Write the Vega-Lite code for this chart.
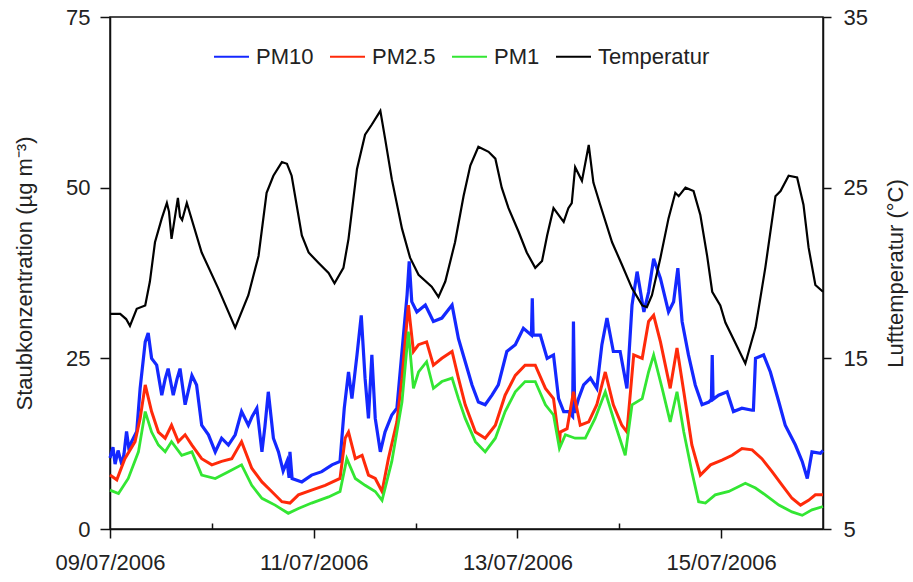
{
  "$schema": "https://vega.github.io/schema/vega-lite/v6.json",
  "width": 713,
  "height": 512,
  "autosize": {"type": "none"},
  "padding": {"left": 110, "top": 17, "right": 90, "bottom": 53},
  "config": {
    "font": "Liberation Sans",
    "view": {"stroke": "#111", "strokeWidth": 1.5},
    "axis": {"grid": false, "domainColor": "#111", "domainWidth": 1.5, "tickColor": "#111", "tickWidth": 1.5, "labelColor": "#222", "labelFontSize": 22, "titleFontSize": 22, "titleFontWeight": "normal", "titleColor": "#222"}
  },
  "data": {"values": [
    {"t":0,"s":"PM10","v":10.4},{"t":0.7,"s":"PM10","v":12.0},{"t":1.2,"s":"PM10","v":9.5},{"t":1.9,"s":"PM10","v":11.5},{"t":2.8,"s":"PM10","v":9.4},{"t":3.3,"s":"PM10","v":11.0},{"t":3.9,"s":"PM10","v":14.3},{"t":4.5,"s":"PM10","v":11.5},{"t":5.1,"s":"PM10","v":12.8},{"t":6.3,"s":"PM10","v":14.3},{"t":7.1,"s":"PM10","v":20.6},{"t":8.3,"s":"PM10","v":27.4},{"t":9.0,"s":"PM10","v":28.7},{"t":9.8,"s":"PM10","v":25.0},{"t":11.0,"s":"PM10","v":24.0},{"t":12.2,"s":"PM10","v":19.6},{"t":13.0,"s":"PM10","v":22.0},{"t":13.7,"s":"PM10","v":23.5},{"t":14.9,"s":"PM10","v":19.6},{"t":15.8,"s":"PM10","v":22.0},{"t":16.5,"s":"PM10","v":23.5},{"t":17.7,"s":"PM10","v":18.2},{"t":19.3,"s":"PM10","v":22.5},{"t":20.4,"s":"PM10","v":21.1},{"t":21.6,"s":"PM10","v":15.2},{"t":23.2,"s":"PM10","v":13.8},{"t":24.8,"s":"PM10","v":11.3},{"t":26.3,"s":"PM10","v":13.3},{"t":27.9,"s":"PM10","v":12.3},{"t":29.5,"s":"PM10","v":13.8},{"t":31.0,"s":"PM10","v":17.2},{"t":32.6,"s":"PM10","v":15.2},{"t":33.5,"s":"PM10","v":16.5},{"t":34.6,"s":"PM10","v":17.7},{"t":35.8,"s":"PM10","v":11.3},{"t":36.5,"s":"PM10","v":15.0},{"t":37.3,"s":"PM10","v":20.1},{"t":38.5,"s":"PM10","v":13.3},{"t":39.7,"s":"PM10","v":11.3},{"t":40.8,"s":"PM10","v":8.5},{"t":41.7,"s":"PM10","v":9.9},{"t":42.2,"s":"PM10","v":7.5},{"t":42.4,"s":"PM10","v":11.3},{"t":42.9,"s":"PM10","v":7.4},{"t":45.2,"s":"PM10","v":6.9},{"t":47.5,"s":"PM10","v":7.9},{"t":49.9,"s":"PM10","v":8.4},{"t":52.3,"s":"PM10","v":9.4},{"t":54.2,"s":"PM10","v":9.9},{"t":55.2,"s":"PM10","v":17.7},{"t":56.2,"s":"PM10","v":23.0},{"t":57.0,"s":"PM10","v":19.1},{"t":58.2,"s":"PM10","v":25.5},{"t":59.2,"s":"PM10","v":31.3},{"t":60.1,"s":"PM10","v":22.1},{"t":60.9,"s":"PM10","v":16.2},{"t":61.7,"s":"PM10","v":25.5},{"t":62.5,"s":"PM10","v":16.2},{"t":63.7,"s":"PM10","v":11.3},{"t":64.8,"s":"PM10","v":14.2},{"t":66.4,"s":"PM10","v":16.7},{"t":67.6,"s":"PM10","v":17.7},{"t":68.8,"s":"PM10","v":26.0},{"t":70.0,"s":"PM10","v":34.3},{"t":70.5,"s":"PM10","v":39.2},{"t":71.1,"s":"PM10","v":33.3},{"t":72.3,"s":"PM10","v":31.8},{"t":74.3,"s":"PM10","v":32.8},{"t":76.2,"s":"PM10","v":30.4},{"t":78.2,"s":"PM10","v":30.9},{"t":80.6,"s":"PM10","v":32.8},{"t":82.1,"s":"PM10","v":27.9},{"t":83.7,"s":"PM10","v":24.5},{"t":85.3,"s":"PM10","v":21.1},{"t":86.8,"s":"PM10","v":18.6},{"t":88.4,"s":"PM10","v":18.2},{"t":90.0,"s":"PM10","v":19.6},{"t":91.5,"s":"PM10","v":21.1},{"t":93.5,"s":"PM10","v":26.0},{"t":95.5,"s":"PM10","v":27.0},{"t":97.4,"s":"PM10","v":29.4},{"t":99.3,"s":"PM10","v":28.4},{"t":99.5,"s":"PM10","v":33.8},{"t":99.7,"s":"PM10","v":28.4},{"t":101.4,"s":"PM10","v":28.4},{"t":103.0,"s":"PM10","v":25.0},{"t":104.5,"s":"PM10","v":25.5},{"t":105.7,"s":"PM10","v":19.1},{"t":106.9,"s":"PM10","v":17.2},{"t":108.0,"s":"PM10","v":17.2},{"t":109.0,"s":"PM10","v":16.5},{"t":109.2,"s":"PM10","v":30.4},{"t":109.5,"s":"PM10","v":17.0},{"t":110.4,"s":"PM10","v":19.1},{"t":111.6,"s":"PM10","v":21.1},{"t":113.2,"s":"PM10","v":22.1},{"t":114.7,"s":"PM10","v":20.6},{"t":115.9,"s":"PM10","v":27.0},{"t":117.1,"s":"PM10","v":30.9},{"t":118.6,"s":"PM10","v":26.0},{"t":120.2,"s":"PM10","v":26.0},{"t":121.8,"s":"PM10","v":20.6},{"t":123.0,"s":"PM10","v":32.8},{"t":124.2,"s":"PM10","v":37.7},{"t":125.8,"s":"PM10","v":31.8},{"t":126.9,"s":"PM10","v":34.7},{"t":128.1,"s":"PM10","v":39.6},{"t":129.7,"s":"PM10","v":36.7},{"t":131.6,"s":"PM10","v":31.8},{"t":132.8,"s":"PM10","v":33.3},{"t":133.8,"s":"PM10","v":38.2},{"t":134.8,"s":"PM10","v":30.4},{"t":136.3,"s":"PM10","v":25.5},{"t":137.9,"s":"PM10","v":21.1},{"t":139.5,"s":"PM10","v":18.2},{"t":141.1,"s":"PM10","v":18.6},{"t":141.7,"s":"PM10","v":19.0},{"t":141.9,"s":"PM10","v":25.5},{"t":142.1,"s":"PM10","v":19.0},{"t":143.4,"s":"PM10","v":19.6},{"t":145.4,"s":"PM10","v":20.1},{"t":146.9,"s":"PM10","v":17.2},{"t":148.9,"s":"PM10","v":17.7},{"t":151.3,"s":"PM10","v":17.4},{"t":151.6,"s":"PM10","v":17.4},{"t":152.1,"s":"PM10","v":25.0},{"t":154.0,"s":"PM10","v":25.5},{"t":155.6,"s":"PM10","v":23.0},{"t":157.6,"s":"PM10","v":18.6},{"t":159.1,"s":"PM10","v":15.2},{"t":161.5,"s":"PM10","v":12.3},{"t":163.1,"s":"PM10","v":9.9},{"t":164.3,"s":"PM10","v":7.4},{"t":165.4,"s":"PM10","v":11.3},{"t":167.4,"s":"PM10","v":11.1},{"t":168,"s":"PM10","v":11.5},

    {"t":0,"s":"PM2.5","v":7.9},{"t":1.6,"s":"PM2.5","v":7.2},{"t":3.5,"s":"PM2.5","v":10.3},{"t":5.9,"s":"PM2.5","v":12.8},{"t":7.1,"s":"PM2.5","v":16.2},{"t":8.3,"s":"PM2.5","v":21.1},{"t":9.8,"s":"PM2.5","v":17.2},{"t":11.4,"s":"PM2.5","v":14.2},{"t":13.0,"s":"PM2.5","v":13.3},{"t":14.5,"s":"PM2.5","v":15.2},{"t":16.1,"s":"PM2.5","v":12.8},{"t":17.7,"s":"PM2.5","v":13.8},{"t":19.3,"s":"PM2.5","v":12.3},{"t":21.6,"s":"PM2.5","v":10.3},{"t":24.0,"s":"PM2.5","v":9.4},{"t":26.3,"s":"PM2.5","v":9.9},{"t":28.7,"s":"PM2.5","v":10.3},{"t":31.0,"s":"PM2.5","v":12.8},{"t":33.4,"s":"PM2.5","v":8.9},{"t":35.8,"s":"PM2.5","v":6.9},{"t":38.1,"s":"PM2.5","v":5.5},{"t":40.5,"s":"PM2.5","v":4.0},{"t":42.4,"s":"PM2.5","v":3.8},{"t":44.4,"s":"PM2.5","v":5.0},{"t":47.5,"s":"PM2.5","v":5.7},{"t":50.7,"s":"PM2.5","v":6.4},{"t":54.2,"s":"PM2.5","v":7.4},{"t":55.4,"s":"PM2.5","v":13.3},{"t":56.2,"s":"PM2.5","v":14.2},{"t":57.8,"s":"PM2.5","v":10.3},{"t":59.4,"s":"PM2.5","v":10.8},{"t":60.9,"s":"PM2.5","v":7.9},{"t":62.5,"s":"PM2.5","v":7.4},{"t":64.1,"s":"PM2.5","v":5.5},{"t":65.6,"s":"PM2.5","v":10.3},{"t":67.6,"s":"PM2.5","v":15.7},{"t":68.8,"s":"PM2.5","v":22.1},{"t":70.3,"s":"PM2.5","v":32.8},{"t":71.5,"s":"PM2.5","v":26.0},{"t":72.7,"s":"PM2.5","v":27.0},{"t":74.6,"s":"PM2.5","v":27.4},{"t":76.2,"s":"PM2.5","v":24.0},{"t":78.2,"s":"PM2.5","v":25.0},{"t":80.6,"s":"PM2.5","v":26.0},{"t":82.1,"s":"PM2.5","v":22.1},{"t":83.7,"s":"PM2.5","v":18.2},{"t":86.1,"s":"PM2.5","v":14.2},{"t":88.4,"s":"PM2.5","v":13.3},{"t":90.8,"s":"PM2.5","v":15.2},{"t":93.1,"s":"PM2.5","v":19.6},{"t":95.5,"s":"PM2.5","v":22.5},{"t":97.8,"s":"PM2.5","v":24.0},{"t":100.2,"s":"PM2.5","v":24.0},{"t":102.6,"s":"PM2.5","v":20.6},{"t":104.5,"s":"PM2.5","v":19.1},{"t":105.9,"s":"PM2.5","v":12.5},{"t":106.1,"s":"PM2.5","v":14.2},{"t":107.7,"s":"PM2.5","v":14.7},{"t":109.2,"s":"PM2.5","v":20.1},{"t":110.8,"s":"PM2.5","v":15.2},{"t":112.8,"s":"PM2.5","v":15.7},{"t":114.7,"s":"PM2.5","v":18.2},{"t":116.7,"s":"PM2.5","v":23.0},{"t":118.6,"s":"PM2.5","v":18.2},{"t":120.6,"s":"PM2.5","v":15.2},{"t":121.8,"s":"PM2.5","v":14.2},{"t":123.4,"s":"PM2.5","v":25.5},{"t":125.4,"s":"PM2.5","v":25.0},{"t":126.9,"s":"PM2.5","v":30.4},{"t":128.1,"s":"PM2.5","v":31.3},{"t":129.7,"s":"PM2.5","v":27.4},{"t":132.0,"s":"PM2.5","v":20.6},{"t":133.6,"s":"PM2.5","v":26.5},{"t":135.2,"s":"PM2.5","v":20.1},{"t":137.1,"s":"PM2.5","v":12.3},{"t":139.1,"s":"PM2.5","v":7.9},{"t":141.5,"s":"PM2.5","v":9.4},{"t":144.2,"s":"PM2.5","v":10.1},{"t":146.6,"s":"PM2.5","v":10.8},{"t":148.9,"s":"PM2.5","v":11.8},{"t":151.3,"s":"PM2.5","v":11.6},{"t":153.6,"s":"PM2.5","v":10.3},{"t":156.0,"s":"PM2.5","v":8.4},{"t":158.4,"s":"PM2.5","v":6.4},{"t":160.7,"s":"PM2.5","v":4.5},{"t":162.7,"s":"PM2.5","v":3.5},{"t":164.6,"s":"PM2.5","v":4.2},{"t":166.2,"s":"PM2.5","v":5.0},{"t":168,"s":"PM2.5","v":5.0},

    {"t":0,"s":"PM1","v":5.7},{"t":2.0,"s":"PM1","v":5.2},{"t":4.3,"s":"PM1","v":7.4},{"t":6.7,"s":"PM1","v":11.3},{"t":8.3,"s":"PM1","v":17.2},{"t":9.8,"s":"PM1","v":14.2},{"t":11.4,"s":"PM1","v":12.3},{"t":13.0,"s":"PM1","v":11.3},{"t":14.5,"s":"PM1","v":12.8},{"t":16.9,"s":"PM1","v":10.8},{"t":19.3,"s":"PM1","v":11.3},{"t":21.6,"s":"PM1","v":7.9},{"t":24.8,"s":"PM1","v":7.4},{"t":27.9,"s":"PM1","v":8.4},{"t":31.0,"s":"PM1","v":9.4},{"t":33.4,"s":"PM1","v":6.4},{"t":35.8,"s":"PM1","v":4.5},{"t":38.9,"s":"PM1","v":3.5},{"t":42.0,"s":"PM1","v":2.3},{"t":44.4,"s":"PM1","v":3.0},{"t":47.5,"s":"PM1","v":3.8},{"t":51.5,"s":"PM1","v":4.7},{"t":54.2,"s":"PM1","v":5.5},{"t":55.8,"s":"PM1","v":10.3},{"t":57.8,"s":"PM1","v":7.4},{"t":60.1,"s":"PM1","v":6.4},{"t":62.5,"s":"PM1","v":5.5},{"t":64.1,"s":"PM1","v":4.2},{"t":66.4,"s":"PM1","v":9.9},{"t":68.8,"s":"PM1","v":18.6},{"t":70.3,"s":"PM1","v":28.9},{"t":71.5,"s":"PM1","v":20.6},{"t":72.7,"s":"PM1","v":23.0},{"t":74.6,"s":"PM1","v":24.5},{"t":76.2,"s":"PM1","v":20.6},{"t":78.2,"s":"PM1","v":21.6},{"t":80.6,"s":"PM1","v":22.1},{"t":82.1,"s":"PM1","v":19.1},{"t":83.7,"s":"PM1","v":16.2},{"t":86.1,"s":"PM1","v":12.8},{"t":88.4,"s":"PM1","v":11.3},{"t":90.8,"s":"PM1","v":13.3},{"t":93.1,"s":"PM1","v":17.2},{"t":95.5,"s":"PM1","v":20.1},{"t":97.8,"s":"PM1","v":21.6},{"t":100.2,"s":"PM1","v":21.6},{"t":102.6,"s":"PM1","v":18.2},{"t":104.5,"s":"PM1","v":16.7},{"t":105.9,"s":"PM1","v":11.8},{"t":107.3,"s":"PM1","v":13.8},{"t":109.6,"s":"PM1","v":13.3},{"t":112.0,"s":"PM1","v":13.3},{"t":114.3,"s":"PM1","v":16.2},{"t":116.7,"s":"PM1","v":20.1},{"t":119.1,"s":"PM1","v":15.2},{"t":121.4,"s":"PM1","v":10.8},{"t":123.0,"s":"PM1","v":18.2},{"t":125.4,"s":"PM1","v":19.1},{"t":126.9,"s":"PM1","v":23.0},{"t":128.1,"s":"PM1","v":25.5},{"t":130.1,"s":"PM1","v":20.6},{"t":132.0,"s":"PM1","v":15.7},{"t":133.6,"s":"PM1","v":20.1},{"t":135.2,"s":"PM1","v":14.2},{"t":137.1,"s":"PM1","v":8.4},{"t":138.7,"s":"PM1","v":4.0},{"t":140.3,"s":"PM1","v":3.8},{"t":142.6,"s":"PM1","v":5.0},{"t":145.8,"s":"PM1","v":5.5},{"t":149.7,"s":"PM1","v":6.7},{"t":152.1,"s":"PM1","v":6.0},{"t":154.4,"s":"PM1","v":5.0},{"t":157.6,"s":"PM1","v":3.5},{"t":160.7,"s":"PM1","v":2.5},{"t":163.1,"s":"PM1","v":2.0},{"t":165.4,"s":"PM1","v":2.8},{"t":168,"s":"PM1","v":3.3},

    {"t":0,"s":"Temperatur","v":17.6},{"t":2.4,"s":"Temperatur","v":17.6},{"t":3.8,"s":"Temperatur","v":17.3},{"t":4.7,"s":"Temperatur","v":16.9},{"t":6.3,"s":"Temperatur","v":17.9},{"t":8.3,"s":"Temperatur","v":18.1},{"t":9.4,"s":"Temperatur","v":19.5},{"t":10.6,"s":"Temperatur","v":21.8},{"t":12.2,"s":"Temperatur","v":23.2},{"t":13.4,"s":"Temperatur","v":24.1},{"t":13.9,"s":"Temperatur","v":23.6},{"t":14.5,"s":"Temperatur","v":22.0},{"t":16.0,"s":"Temperatur","v":24.4},{"t":16.5,"s":"Temperatur","v":23.3},{"t":17.0,"s":"Temperatur","v":23.1},{"t":18.1,"s":"Temperatur","v":24.1},{"t":21.6,"s":"Temperatur","v":21.2},{"t":25.5,"s":"Temperatur","v":19.1},{"t":29.5,"s":"Temperatur","v":16.8},{"t":32.6,"s":"Temperatur","v":18.7},{"t":35.0,"s":"Temperatur","v":21.0},{"t":36.9,"s":"Temperatur","v":24.7},{"t":38.5,"s":"Temperatur","v":25.7},{"t":40.5,"s":"Temperatur","v":26.5},{"t":41.7,"s":"Temperatur","v":26.4},{"t":42.8,"s":"Temperatur","v":25.7},{"t":45.2,"s":"Temperatur","v":22.2},{"t":46.8,"s":"Temperatur","v":21.2},{"t":49.1,"s":"Temperatur","v":20.6},{"t":51.5,"s":"Temperatur","v":20.0},{"t":52.9,"s":"Temperatur","v":19.4},{"t":55.0,"s":"Temperatur","v":20.3},{"t":56.2,"s":"Temperatur","v":22.0},{"t":58.2,"s":"Temperatur","v":26.1},{"t":60.1,"s":"Temperatur","v":28.1},{"t":61.7,"s":"Temperatur","v":28.7},{"t":63.7,"s":"Temperatur","v":29.5},{"t":64.8,"s":"Temperatur","v":27.9},{"t":66.4,"s":"Temperatur","v":25.5},{"t":68.8,"s":"Temperatur","v":22.6},{"t":70.7,"s":"Temperatur","v":20.9},{"t":72.7,"s":"Temperatur","v":19.9},{"t":75.8,"s":"Temperatur","v":19.2},{"t":77.4,"s":"Temperatur","v":18.6},{"t":79.0,"s":"Temperatur","v":19.5},{"t":81.3,"s":"Temperatur","v":21.8},{"t":83.3,"s":"Temperatur","v":24.5},{"t":84.9,"s":"Temperatur","v":26.3},{"t":86.8,"s":"Temperatur","v":27.4},{"t":89.2,"s":"Temperatur","v":27.1},{"t":90.8,"s":"Temperatur","v":26.7},{"t":92.3,"s":"Temperatur","v":25.0},{"t":93.9,"s":"Temperatur","v":23.8},{"t":96.3,"s":"Temperatur","v":22.4},{"t":98.2,"s":"Temperatur","v":21.2},{"t":100.2,"s":"Temperatur","v":20.3},{"t":101.8,"s":"Temperatur","v":20.7},{"t":103.0,"s":"Temperatur","v":22.2},{"t":104.5,"s":"Temperatur","v":23.8},{"t":106.9,"s":"Temperatur","v":23.0},{"t":108.0,"s":"Temperatur","v":23.8},{"t":108.8,"s":"Temperatur","v":24.1},{"t":109.6,"s":"Temperatur","v":26.2},{"t":111.2,"s":"Temperatur","v":25.4},{"t":112.8,"s":"Temperatur","v":27.5},{"t":113.9,"s":"Temperatur","v":25.3},{"t":115.5,"s":"Temperatur","v":24.0},{"t":118.3,"s":"Temperatur","v":21.8},{"t":120.6,"s":"Temperatur","v":20.5},{"t":123.0,"s":"Temperatur","v":19.1},{"t":125.4,"s":"Temperatur","v":18.1},{"t":126.5,"s":"Temperatur","v":18.0},{"t":127.7,"s":"Temperatur","v":18.7},{"t":129.7,"s":"Temperatur","v":20.9},{"t":131.6,"s":"Temperatur","v":23.2},{"t":133.2,"s":"Temperatur","v":24.7},{"t":134.0,"s":"Temperatur","v":24.5},{"t":135.6,"s":"Temperatur","v":25.0},{"t":137.5,"s":"Temperatur","v":24.8},{"t":139.1,"s":"Temperatur","v":23.4},{"t":140.7,"s":"Temperatur","v":21.0},{"t":141.9,"s":"Temperatur","v":18.9},{"t":143.8,"s":"Temperatur","v":18.1},{"t":145.0,"s":"Temperatur","v":17.1},{"t":149.7,"s":"Temperatur","v":14.7},{"t":152.1,"s":"Temperatur","v":16.8},{"t":154.4,"s":"Temperatur","v":20.3},{"t":156.8,"s":"Temperatur","v":24.5},{"t":158.0,"s":"Temperatur","v":24.8},{"t":159.9,"s":"Temperatur","v":25.7},{"t":161.9,"s":"Temperatur","v":25.6},{"t":163.4,"s":"Temperatur","v":24.0},{"t":164.6,"s":"Temperatur","v":21.5},{"t":166.2,"s":"Temperatur","v":19.3},{"t":168,"s":"Temperatur","v":18.9}
  ]},
  "encoding": {
    "x": {
      "field": "t", "type": "quantitative",
      "scale": {"domain": [0, 168], "nice": false, "zero": false},
      "axis": {
        "title": null,
        "values": [0, 24, 48, 72, 96, 120, 144],
        "labelExpr": "datum.value == 0 ? '09/07/2006' : datum.value == 48 ? '11/07/2006' : datum.value == 96 ? '13/07/2006' : datum.value == 144 ? '15/07/2006' : ''",
        "tickSize": {"condition": {"test": "datum.value % 48 === 0", "value": 9}, "value": -6},
        "labelPadding": 14,
        "labelFlush": false
      }
    }
  },
  "layer": [
    {
      "transform": [{"filter": "datum.s != 'Temperatur'"}],
      "mark": {"type": "line", "interpolate": "linear"},
      "encoding": {
        "y": {
          "field": "v", "type": "quantitative",
          "scale": {"domain": [0, 75], "nice": false},
          "axis": {"orient": "left", "values": [0, 25, 50, 75], "tickSize": 10, "labelPadding": 10, "title": "Staubkonzentration (µg m⁻³)", "titlePadding": 29}
        },
        "color": {
          "field": "s", "type": "nominal",
          "scale": {"domain": ["PM10", "PM2.5", "PM1", "Temperatur"], "range": ["#1428ff", "#ff2a0a", "#33e633", "#000000"]},
          "legend": {"title": null, "orient": "none", "legendX": 103, "legendY": 21, "direction": "horizontal", "symbolType": "stroke", "symbolSize": 1225, "symbolStrokeWidth": 2, "labelFontSize": 22, "labelColor": "#222", "labelOffset": 6, "columnPadding": 12, "padding": 0}
        },
        "strokeWidth": {
          "field": "s", "type": "nominal",
          "scale": {"domain": ["PM10", "PM2.5", "PM1"], "range": [3.2, 2.8, 1.3]},
          "legend": null
        }
      }
    },
    {
      "transform": [{"filter": "datum.s == 'Temperatur'"}],
      "mark": {"type": "line", "strokeWidth": 2.2},
      "encoding": {
        "y": {
          "field": "v", "type": "quantitative",
          "scale": {"domain": [5, 35], "nice": false, "zero": false},
          "axis": {"orient": "right", "values": [5, 15, 25, 35], "tickSize": 8, "labelPadding": 12, "title": "Lufttemperatur (°C)", "titleAngle": 270, "titlePadding": 40}
        },
        "color": {"field": "s", "type": "nominal"}
      }
    }
  ],
  "resolve": {"scale": {"y": "independent"}}
}
